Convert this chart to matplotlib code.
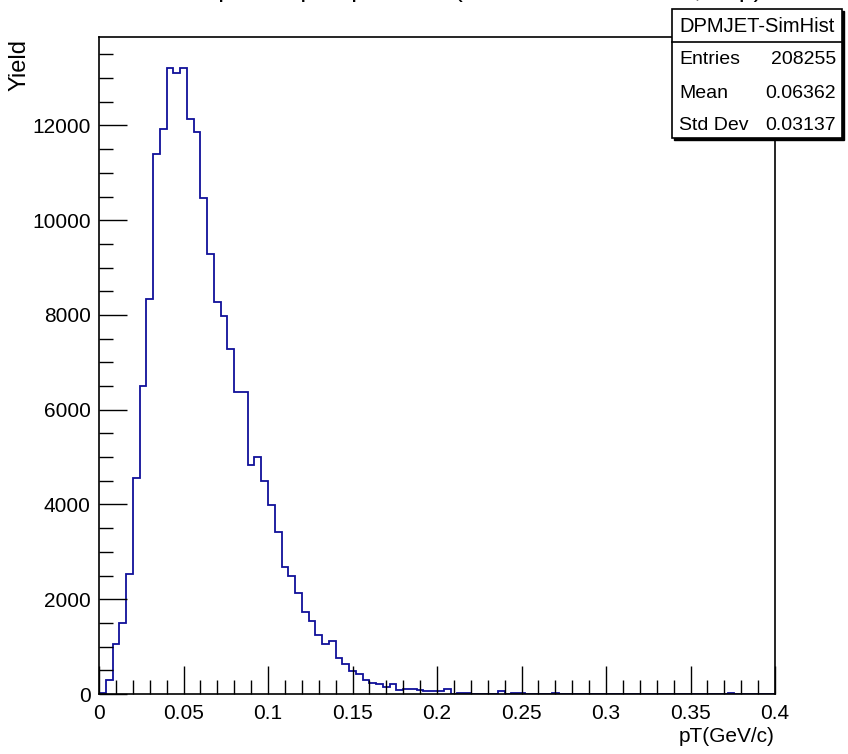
import numpy as np
import matplotlib
matplotlib.use("Agg")
import matplotlib.pyplot as plt
from matplotlib.ticker import MultipleLocator
from matplotlib.patches import Rectangle

# ---- data ----
x_min, x_max, n_bins = 0.0, 0.4, 100
counts = [30, 290, 1056, 1506, 2534, 4562, 6505, 8336, 11405, 11933,
          13207, 13101, 13207, 12144, 11869, 10461, 9287, 8273, 7969, 7286,
          6378, 6364, 4836, 4999, 4499, 3992, 3414, 2689, 2492, 2127,
          1738, 1542, 1239, 1049, 1119, 754, 640, 479, 416, 289,
          226, 218, 155, 211, 78, 112, 100, 85, 60, 60,
          70, 112, 10, 25, 25, 10, 5, 5, 10, 60,
          10, 20, 20, 5, 5, 5, 5, 30, 5, 0,
          0, 5, 0, 0, 5, 0, 10, 5, 0, 0,
          0, 0, 0, 0, 0, 0, 0, 0, 0, 0,
          0, 0, 0, 15, 5, 0, 0, 0, 0, 0]
stats_title = "DPMJET-SimHist"
stats_labels = ["Entries", "Mean", "Std Dev"]
stats_values = ["208255", "0.06362", "0.03137"]
title = "Scattered proton pT spectrum (DPMJET simulation, e+p)"
x_label = "pT(GeV/c)"
y_label = "Yield"
x_ticks = [0, 0.05, 0.1, 0.15, 0.2, 0.25, 0.3, 0.35, 0.4]
x_tick_labels = ["0", "0.05", "0.1", "0.15", "0.2", "0.25", "0.3", "0.35", "0.4"]
y_ticks = [0, 2000, 4000, 6000, 8000, 10000, 12000]

edges = np.linspace(x_min, x_max, n_bins + 1)

plt.rcParams['font.family'] = ['Liberation Sans', 'DejaVu Sans']

W, H = 848, 754
fig = plt.figure(figsize=(W / 100, H / 100), dpi=100)
ax = fig.add_axes([99 / W, 1 - 694 / H, (775 - 99) / W, (694 - 37) / H])

ax.stairs(counts, edges, color='#10109a', linewidth=1.3)
ax.set_xlim(x_min, x_max)
ax.set_ylim(0, max(counts) * 1.05)

ax.set_xticks(x_ticks)
ax.set_xticklabels(x_tick_labels)
ax.set_yticks(y_ticks)
ax.xaxis.set_minor_locator(MultipleLocator(0.01))
ax.yaxis.set_minor_locator(MultipleLocator(500))
ax.tick_params(axis='both', which='major', direction='in', length=20, width=1,
               labelsize=15, top=False, right=False)
ax.tick_params(axis='both', which='minor', direction='in', length=10, width=1,
               top=False, right=False)
ax.tick_params(axis='x', pad=7)
ax.tick_params(axis='y', pad=6)
for s in ax.spines.values():
    s.set_linewidth(1.2)

fig.text(775 / W, 1 - 736 / H, x_label, ha='right', va='center', fontsize=15)
fig.text(20 / W, 1 - 39 / H, y_label, ha='center', va='top', rotation=90, fontsize=17)

# title: clipped at the top edge, only its lowest strokes are visible
fig.text(430 / W, 1 + 3 / H, title, ha='center', va='baseline', fontsize=19)

# stats box
bx0, bx1, by0, by1, bh = 672, 842, 9, 138, 42
fig.patches.append(Rectangle(((bx0 + 2) / W, 1 - (by1 + 2) / H), (bx1 - bx0) / W, (by1 - by0) / H,
                             transform=fig.transFigure, facecolor='black', edgecolor='black', zorder=5))
fig.patches.append(Rectangle((bx0 / W, 1 - by1 / H), (bx1 - bx0) / W, (by1 - by0) / H,
                             transform=fig.transFigure, facecolor='white', edgecolor='black',
                             linewidth=1.2, zorder=6))
fig.lines.append(plt.Line2D([bx0 / W, bx1 / W], [1 - bh / H, 1 - bh / H],
                            transform=fig.transFigure, color='black', linewidth=1.2, zorder=7))
fig.text((bx0 + bx1) / 2 / W, 1 - 26 / H, stats_title, ha='center', va='center', fontsize=14.5, zorder=8)
row_y = [60, 93, 125]
for lab, val, yy in zip(stats_labels, stats_values, row_y):
    fig.text((bx0 + 7) / W, 1 - yy / H, lab, ha='left', va='center', fontsize=14, zorder=8)
    fig.text((bx1 - 6) / W, 1 - yy / H, val, ha='right', va='center', fontsize=14, zorder=8)

fig.savefig("out.png", dpi=100)
